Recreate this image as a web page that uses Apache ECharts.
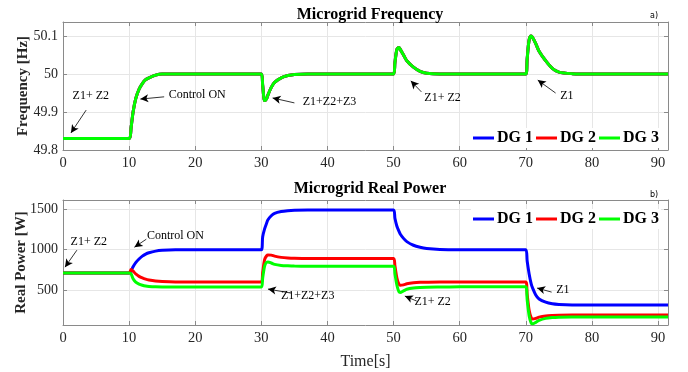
<!DOCTYPE html>
<html><head><meta charset="utf-8">
<script src="https://cdn.jsdelivr.net/npm/echarts@6/dist/echarts.min.js"></script>
<style>html,body{margin:0;padding:0;background:#fff}#c{width:688px;height:372px}</style>
</head><body><div id="c"></div>
<script>
const time = [0,10,10.3,10.6,11,11.5,12,12.5,13,14,15,17,20,30,30.2,30.5,30.8,31,31.5,32,33,34,35,37,40,50,50.2,50.5,50.8,51,51.5,52,53,54,55,57,60,70,70.2,70.5,70.8,71,71.5,72,73,74,75,77,80,91.5];
const freq = [49.83,49.83,49.86,49.90,49.935,49.96,49.975,49.985,49.99,49.997,50,50,50,50,49.97,49.93,49.935,49.945,49.965,49.978,49.99,49.996,49.999,50,50,50,50.03,50.065,50.07,50.065,50.05,50.035,50.018,50.007,50.002,50,50,50,50.04,50.09,50.10,50.097,50.08,50.06,50.035,50.015,50.005,50.001,50,50];
const p1 = [713,713,740,790,840,885,920,945,962,982,992,999,1000,1000,1160,1260,1330,1370,1420,1450,1472,1482,1487,1490,1490,1490,1390,1290,1230,1195,1140,1100,1055,1030,1015,1003,1000,1000,860,700,580,530,440,390,350,330,322,316,315,315];
const p2 = [713,713,755,735,700,670,650,635,625,612,605,600,600,600,720,880,925,935,933,920,905,897,893,890,890,890,800,650,575,560,565,578,590,596,598,600,600,600,450,250,160,142,150,165,180,186,189,191,191,191];
const p3 = [713,713,700,640,600,575,560,550,545,540,538,537,537,537,650,800,845,848,835,818,805,800,797,796,796,796,700,560,480,470,490,510,525,532,536,538,540,540,380,180,95,82,100,125,150,160,164,166,167,167];
const seriesNames = ['DG 1','DG 2','DG 3'];
const xTicks = [0,10,20,30,40,50,60,70,80,90];
const fTicks = [49.8,49.9,50,50.1];
const pTicks = [500,1000,1500];
// annotations: [text, textX, textY, arrowFromX, arrowFromY, arrowToX, arrowToY]
const annF = [
  ['Z1+ Z2',4.2,49.942,3.5,49.905,1.2,49.845],
  ['Control ON',20.3,49.945,15.3,49.94,11.7,49.934],
  ['Z1+Z2+Z3',40.3,49.926,35,49.924,31.7,49.937],
  ['Z1+ Z2',57.4,49.937,54.2,49.953,52.6,49.982],
  ['Z1',76.2,49.942,74.5,49.95,71.8,49.984]
];
const annP = [
  ['Z1+ Z2',3.9,1093,2.1,994,0.3,784],
  ['Control ON',17,1167,12.6,1130,10.8,1031],
  ['Z1+Z2+Z3',37,426,34.5,463,31,512],
  ['Z1+ Z2',55.9,352,53.5,364,51.7,426],
  ['Z1',75.6,500,73.9,475,71.7,525]
];
const colors = ['#0000ff','#ff0000','#00ff00'];
const serif = 'Liberation Serif';
const zip = (a,b)=>a.map((v,i)=>[v,b[i]]);

function xAx(gi, pos, labels){
  return {type:'value',gridIndex:gi,position:pos,min:0,max:91.5,
    axisLine:{show:true,onZero:false,lineStyle:{color:'#8a8a8a',width:1}},
    axisTick:{show:true,inside:true,length:4,customValues:xTicks,lineStyle:{color:'#8a8a8a'}},
    axisLabel:{show:labels,customValues:xTicks,fontFamily:serif,fontSize:14.5,color:'#262626',margin:6},
    splitLine:{show:labels,lineStyle:{color:'#e6e6e6',width:1}}};
}
function yAx(gi, pos, labels, mn, mx, ticks, name){
  return {type:'value',gridIndex:gi,position:pos,min:mn,max:mx,
    name:labels?name:'',nameLocation:'middle',nameGap:labels?(gi===0?32:34):0,nameMoveOverlap:false,
    nameTextStyle:{fontFamily:serif,fontSize:15,fontWeight:'bold',color:'#262626'},
    axisLine:{show:true,onZero:false,lineStyle:{color:'#8a8a8a',width:1}},
    axisTick:{show:true,inside:true,length:4,customValues:ticks,lineStyle:{color:'#8a8a8a'}},
    axisLabel:{show:labels,customValues:ticks,fontFamily:serif,fontSize:14,color:'#262626',margin:5,
      formatter:v=>String(Math.round(v*10)/10)},
    splitLine:{show:labels,lineStyle:{color:'#e6e6e6',width:1}}};
}
function mk(ann){
  return {
    markLine:{silent:true,symbol:['none','arrow'],symbolSize:[6,8],animation:false,
      lineStyle:{color:'#000',width:0.8,type:'solid'},label:{show:false},
      data:ann.map(a=>[{coord:[a[3],a[4]]},{coord:[a[5],a[6]]}])},
    markPoint:{silent:true,symbol:'rect',symbolSize:1,itemStyle:{color:'rgba(0,0,0,0)'},animation:false,
      label:{show:true,position:'inside',fontFamily:serif,fontSize:12,color:'#000',formatter:p=>p.name},
      data:ann.map(a=>({name:a[0],coord:[a[1],a[2]]}))}
  };
}
const series=[];
const fvals=[freq,freq,freq], pvals=[p1,p2,p3];
for(let g=0;g<2;g++){
  for(let i=0;i<3;i++){
    const s={type:'line',name:seriesNames[i],xAxisIndex:g*2,yAxisIndex:g*2,
      data:zip(time,(g===0?fvals:pvals)[i]),showSymbol:false,smooth:0.3,animation:false,
      lineStyle:{color:colors[i],width:3},itemStyle:{color:colors[i]},z:2+i};
    if(i===2) Object.assign(s, mk(g===0?annF:annP));
    series.push(s);
  }
}
const legendCommon = {data:seriesNames,right:27,orient:'horizontal',icon:'rect',itemWidth:21,itemHeight:3,itemGap:3,
  backgroundColor:'#fff',padding:[2,2],
  textStyle:{fontFamily:serif,fontSize:16,fontWeight:'bold',color:'#000',padding:[0,0,0,-2]}};
const chart = echarts.init(document.getElementById('c'),null,{renderer:'canvas'});
chart.setOption({
  backgroundColor:'#fff',
  title:[
    {text:'Microgrid Frequency',left:365,textAlign:'center',top:2,textStyle:{fontFamily:serif,fontSize:16,fontWeight:'bold',color:'#000'}},
    {text:'Microgrid Real Power',left:365,textAlign:'center',top:176,textStyle:{fontFamily:serif,fontSize:16,fontWeight:'bold',color:'#000'}},
    {text:'a)',left:645,top:7,textStyle:{fontFamily:'DejaVu Sans',fontSize:8,fontWeight:'normal',color:'#000'}},
    {text:'b)',left:645,top:186,textStyle:{fontFamily:'DejaVu Sans',fontSize:8,fontWeight:'normal',color:'#000'}}
  ],
  legend:[Object.assign({top:128},legendCommon),Object.assign({top:209},legendCommon)],
  grid:[{left:63,right:20,top:22,height:128,outerBoundsMode:'none',containLabel:false},
        {left:63,right:20,top:200,height:125,outerBoundsMode:'none',containLabel:false}],
  xAxis:[xAx(0,'bottom',true),xAx(0,'top',false),
    Object.assign(xAx(1,'bottom',true),{name:'Time[s]',nameLocation:'middle',nameGap:29,nameMoveOverlap:false,nameTextStyle:{fontFamily:serif,fontSize:16,color:'#262626'}}),xAx(1,'top',false)],
  yAxis:[yAx(0,'left',true,49.8,50.137,fTicks,'Frequency [Hz]'),yAx(0,'right',false,49.8,50.137,fTicks,''),
    yAx(1,'left',true,68,1615,pTicks,'Real Power [W]'),yAx(1,'right',false,68,1615,pTicks,'')],
  series:series
});
</script></body></html>
